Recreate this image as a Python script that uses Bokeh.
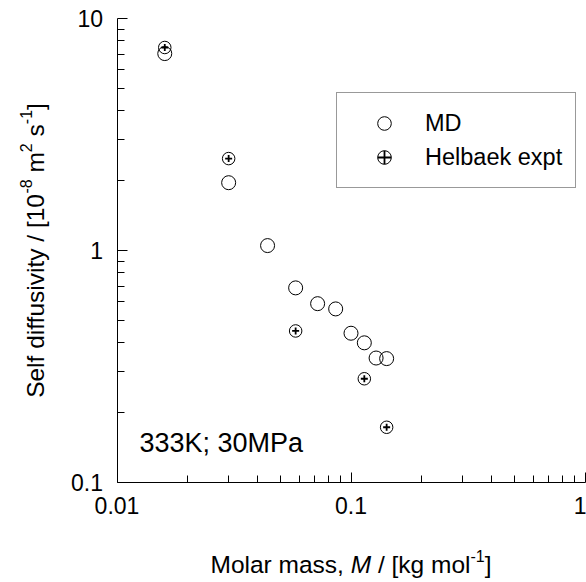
import math
from bokeh.plotting import figure
from bokeh.models import (Range1d, FixedTicker, CustomJSTickFormatter, Label,
                          Legend, LegendItem)
from bokeh.embed import file_html
from bokeh.resources import INLINE

# ---------------- data ----------------
md_mass = [0.016, 0.030, 0.044, 0.058, 0.072, 0.086, 0.100, 0.114, 0.128, 0.142]
md_diff = [7.06, 1.96, 1.05, 0.69, 0.59, 0.56, 0.44, 0.40, 0.344, 0.342]
exp_mass = [0.016, 0.030, 0.058, 0.114, 0.142]
exp_diff = [7.50, 2.49, 0.45, 0.28, 0.173]
x_ticks = [0.01, 0.1, 1]
y_ticks = [0.1, 1, 10]
legend_labels = ["MD", "Helbaek expt"]
condition_text = "333K; 30MPa"
x_title = [("Molar mass, ", "normal", False), ("M", "italic", False),
           (" / [kg mol", "normal", False), ("-1", "normal", True), ("]", "normal", False)]
y_title = [("Self diffusivity / [10", "normal", False), ("-8", "normal", True),
           (" m", "normal", False), ("2", "normal", True), (" s", "normal", False),
           ("-1", "normal", True), ("]", "normal", False)]

# ---------------- layout (canvas pixels) ----------------
FONT = "Liberation Sans"
W, H = 586, 582
AX_LEFT_PX = 116.5      # where x = 0.01 sits (from left)
AX_BOTTOM_PX = 482.0    # where y = 0.1 sits (from top)
DX = 234.0              # px per decade, x
DY = 232.0              # px per decade, y
TITLE_SIZE = 24.5
SUP_SIZE = 16
SUP_RAISE = 12
MID = 0.3465            # distance alphabetic baseline -> text middle, in em

x_lo, x_hi = x_ticks[0], x_ticks[-1]
y_lo, y_hi = y_ticks[0], y_ticks[-1]
x_start = 10 ** (math.log10(x_lo) - AX_LEFT_PX / DX)
x_end = 10 ** (math.log10(x_lo) + (W - AX_LEFT_PX) / DX)
y_start = 10 ** (math.log10(y_lo) - (H - AX_BOTTOM_PX) / DY)
y_end = 10 ** (math.log10(y_lo) + AX_BOTTOM_PX / DY)

# Arial / Liberation Sans advance widths (1/1000 em)
AW = {' ': 278, ',': 278, '-': 333, '.': 278, '/': 278, ';': 278, '[': 278, ']': 278,
      'M': 833, 'S': 667, 'K': 667, 'P': 667, 'D': 722, 'H': 722,
      'a': 556, 'b': 556, 'd': 556, 'e': 556, 'f': 278, 'g': 556, 'i': 222, 'k': 500,
      'l': 222, 'm': 833, 'o': 556, 'p': 556, 'r': 333, 's': 500, 't': 278, 'u': 556,
      'v': 500, 'x': 500, 'y': 500}
for c in "0123456789":
    AW[c] = 556


def tw(s, size):
    return sum(AW.get(c, 556) for c in s) * size / 1000.0


def piece_size(sup):
    return SUP_SIZE if sup else TITLE_SIZE


p = figure(width=W, height=H, x_axis_type="log", y_axis_type="log",
           x_range=Range1d(x_start, x_end), y_range=Range1d(y_start, y_end),
           output_backend="svg", toolbar_location=None,
           min_border=0, min_border_left=0, min_border_right=0,
           min_border_top=0, min_border_bottom=0)
p.outline_line_color = None
p.grid.visible = False
p.background_fill_color = "white"
p.border_fill_color = "white"

x_minor = [k * 10.0 ** e for e in (-2, -1) for k in range(2, 10)]
y_minor = [k * 10.0 ** e for e in (-1, 0) for k in range(2, 10)]
p.xaxis.ticker = FixedTicker(ticks=x_ticks, minor_ticks=x_minor)
p.yaxis.ticker = FixedTicker(ticks=y_ticks, minor_ticks=y_minor)
fmt = "return String(Number(tick.toPrecision(6)))"
p.xaxis.formatter = CustomJSTickFormatter(code=fmt)
p.yaxis.formatter = CustomJSTickFormatter(code=fmt)
p.xaxis.fixed_location = y_lo
p.yaxis.fixed_location = x_lo
p.xaxis.bounds = (x_lo, x_hi)
p.yaxis.bounds = (y_lo, y_hi)

for ax in (p.xaxis[0], p.yaxis[0]):
    ax.axis_line_color = "black"
    ax.axis_line_width = 1
    ax.major_tick_in = 10
    ax.major_tick_out = 0
    ax.minor_tick_in = 7
    ax.minor_tick_out = 0
    ax.major_tick_line_color = "black"
    ax.minor_tick_line_color = "black"
    ax.major_label_text_font = FONT
    ax.major_label_text_font_size = "23px"
    ax.major_label_text_color = "black"
p.xaxis.major_label_standoff = 14
p.yaxis.major_label_standoff = 14

# ---------------- glyphs ----------------
r_md = p.scatter(md_mass, md_diff, marker="circle", size=14, fill_alpha=0,
                 line_color="black", line_width=1)
r_ex_c = p.scatter(exp_mass, exp_diff, marker="circle", size=12.5, fill_alpha=0,
                   line_color="black", line_width=1)
r_ex_x = p.scatter(exp_mass, exp_diff, marker="cross", size=7, line_color="black",
                   line_width=1.8)

legend = Legend(items=[LegendItem(label=legend_labels[0], renderers=[r_md]),
                       LegendItem(label=legend_labels[1], renderers=[r_ex_c, r_ex_x])],
                location=(336, 394), margin=0, padding=13, spacing=0,
                glyph_width=68, glyph_height=34, label_standoff=7,
                label_text_font=FONT, label_text_font_size="23.5px",
                label_text_color="black", border_line_color="#333333",
                border_line_width=1, background_fill_color="white",
                background_fill_alpha=1)
p.add_layout(legend)

# condition annotation (baseline at 130.3 px above the bottom)
COND_SIZE = 27
p.add_layout(Label(x=139, y=130.3 + MID * COND_SIZE, x_units="screen", y_units="screen",
                   text=condition_text, text_font=FONT,
                   text_font_size=f"{COND_SIZE}px", text_color="black",
                   text_align="left", text_baseline="middle"))


# ---------------- axis titles (with superscripts) ----------------
def add_title(pieces, start, base, rotated):
    pos = start
    for s, style, sup in pieces:
        size = piece_size(sup)
        stripped = s.lstrip(" ")
        pos += tw(s[:len(s) - len(stripped)], size)
        off = (SUP_RAISE if sup else 0) + MID * size
        if rotated:
            x, y, ang = base - off, pos, math.pi / 2
        else:
            x, y, ang = pos, base + off, 0
        p.add_layout(Label(x=x, y=y, x_units="screen", y_units="screen",
                           text=stripped.rstrip(" "), text_font=FONT,
                           text_font_size=f"{size}px", text_font_style=style,
                           text_color="black", text_align="left",
                           text_baseline="middle", angle=ang))
        pos += tw(stripped, size)


frame_cx = AX_LEFT_PX + DX            # centre of x axis
total = sum(tw(s, piece_size(sup)) for s, _, sup in x_title)
add_title(x_title, frame_cx - total / 2.0, 9.3, False)

frame_cy = H - (AX_BOTTOM_PX - DY)    # centre of y axis, measured from bottom
total = sum(tw(s, piece_size(sup)) for s, _, sup in y_title)
add_title(y_title, frame_cy - total / 2.0, 43, True)

open("out.html", "w").write(file_html(p, INLINE))
